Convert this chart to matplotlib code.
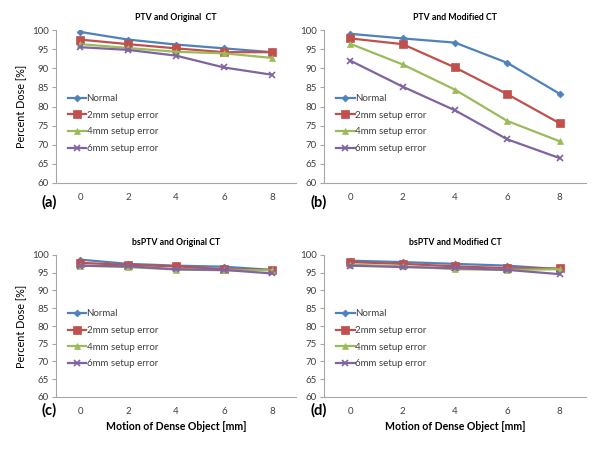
import matplotlib
matplotlib.use("Agg")
import matplotlib.pyplot as plt

plt.rcParams["font.family"] = ["Lato", "DejaVu Sans"]

# ==============================
# Data
# ==============================
motion = [0, 2, 4, 6, 8]
series_names = ["Normal", "2mm setup error", "4mm setup error", "6mm setup error"]

# (a) PTV and Original CT
a_normal = [99.5, 97.5, 96.2, 95.2, 94.2]
a_2mm = [97.5, 96.3, 95.2, 94.2, 94.2]
a_4mm = [96.3, 95.3, 94.3, 93.9, 92.7]
a_6mm = [95.5, 94.8, 93.3, 90.2, 88.3]

# (b) PTV and Modified CT
b_normal = [99.0, 97.8, 96.7, 91.4, 83.3]
b_2mm = [97.8, 96.3, 90.2, 83.2, 75.6]
b_4mm = [96.4, 91.0, 84.4, 76.2, 70.9]
b_6mm = [92.0, 85.2, 79.0, 71.4, 66.5]

# (c) bsPTV and Original CT
c_normal = [98.7, 97.5, 97.0, 96.7, 95.8]
c_2mm = [97.8, 97.2, 96.8, 96.0, 95.8]
c_4mm = [97.0, 96.6, 95.9, 95.7, 95.7]
c_6mm = [97.0, 96.8, 96.0, 95.8, 94.8]

# (d) bsPTV and Modified CT
d_normal = [98.4, 98.0, 97.5, 97.0, 96.0]
d_2mm = [98.0, 97.5, 96.8, 96.3, 96.2]
d_4mm = [97.3, 96.8, 96.0, 95.8, 96.0]
d_6mm = [97.0, 96.6, 96.3, 95.8, 94.6]

titles = ["PTV and Original  CT", "PTV and Modified CT",
          "bsPTV and Original CT", "bsPTV and Modified CT"]
panel_tags = ["(a)", "(b)", "(c)", "(d)"]
y_ticks = [60, 65, 70, 75, 80, 85, 90, 95, 100]

# ==============================
# Styling
# ==============================
colors = ["#4F81BD", "#C0504D", "#9BBB59", "#8064A2"]
markers = ["D", "s", "^", "x"]
msizes = [3.5, 6, 5, 5]
text_gray = "#404040"

W, H = 600, 451
fig = plt.figure(figsize=(6, 4.51), dpi=100)


def px_axes(left, right, top, bottom):
    return fig.add_axes([left / W, 1 - bottom / H, (right - left) / W, (bottom - top) / H])


# pixel boxes: left, right, top(y=100), bottom(y=60)
boxes = [(56, 296, 30, 183), (324, 586, 30, 183),
         (56, 296, 255, 397), (324, 586, 255, 397)]
legend_tops = [0.625, 0.625, 0.665, 0.665]
tag_pos = [(49, 202), (319, 202), (49, 410), (319, 410)]
all_data = [[a_normal, a_2mm, a_4mm, a_6mm],
            [b_normal, b_2mm, b_4mm, b_6mm],
            [c_normal, c_2mm, c_4mm, c_6mm],
            [d_normal, d_2mm, d_4mm, d_6mm]]

for i, (box, data) in enumerate(zip(boxes, all_data)):
    ax = px_axes(*box)
    for vals, name, col, mk, ms in zip(data, series_names, colors, markers, msizes):
        ax.plot(motion, vals, color=col, marker=mk, markersize=ms, lw=1.6,
                label=name, markeredgewidth=1.2 if mk == "x" else 0.5)
    ax.set_xlim(-1, 9)
    ax.set_ylim(60, 100)
    ax.set_xticks(motion)
    ax.set_yticks(y_ticks)
    for s in ["top", "right"]:
        ax.spines[s].set_visible(False)
    for s in ["left", "bottom"]:
        ax.spines[s].set_color("#A6A6A6")
        ax.spines[s].set_linewidth(0.8)
    ax.tick_params(axis="y", length=3, color="#A6A6A6", labelsize=7,
                   labelcolor=text_gray, pad=2)
    ax.tick_params(axis="x", length=0, labelsize=7, labelcolor=text_gray, pad=7)
    ax.set_title(titles[i], fontsize=6.3, fontweight="bold", pad=7)
    leg = ax.legend(loc="upper left", bbox_to_anchor=(0.02, legend_tops[i]),
                    frameon=False, fontsize=7, handlelength=1.9,
                    handletextpad=0.05, labelspacing=0.78, borderaxespad=0.3)
    for t in leg.get_texts():
        t.set_color(text_gray)
    if i % 2 == 0:
        ax.set_ylabel("Percent Dose [%]", fontsize=7.8, labelpad=4)
    if i >= 2:
        ax.set_xlabel("Motion of Dense Object [mm]", fontsize=7.6,
                      fontweight="bold", labelpad=4)

# panel tags
for tag, (tx, ty) in zip(panel_tags, tag_pos):
    fig.text(tx / W, 1 - ty / H, tag, fontsize=10.5, fontweight="bold",
             ha="center", va="center")

fig.savefig("out.png", dpi=100, facecolor="white")
